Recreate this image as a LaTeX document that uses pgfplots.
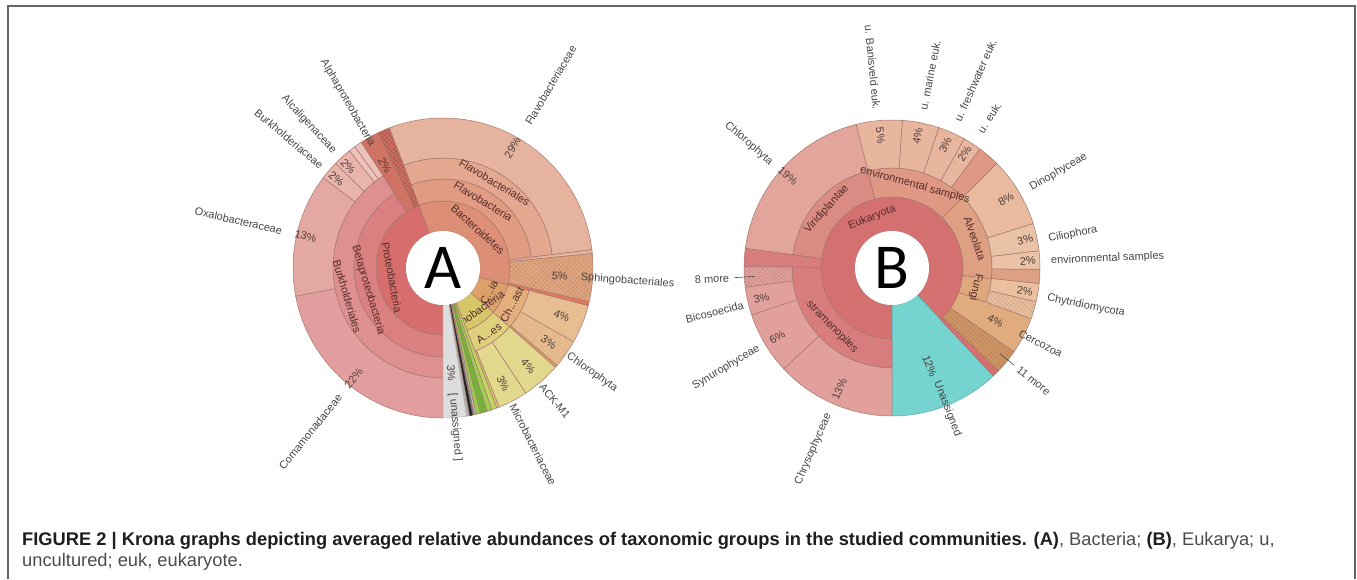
\documentclass[border=0pt]{standalone}
\usepackage{pgfplots}
\pgfplotsset{compat=1.18}
\usepackage{fontspec}
\setmainfont{Liberation Sans}
\newfontfamily\carlito{Carlito}
\usetikzlibrary{patterns.meta}
% ---- colours ----
\definecolor{edgec}{RGB}{165,118,108}
\definecolor{labc}{RGB}{70,70,70}
\definecolor{ilabc}{RGB}{85,45,42}
\definecolor{pctc}{RGB}{80,62,58}
\definecolor{framec}{RGB}{100,100,100}
\definecolor{capb}{RGB}{30,30,30}
\definecolor{capr}{RGB}{75,75,75}
% chart A
\definecolor{Proteo}{RGB}{214,110,110}
\definecolor{Beta}{RGB}{218,128,128}
\definecolor{Burkh}{RGB}{222,143,143}
\definecolor{Comam}{RGB}{226,158,158}
\definecolor{Oxalo}{RGB}{228,168,162}
\definecolor{BurkF}{RGB}{232,180,172}
\definecolor{Slv}{RGB}{236,194,186}
\definecolor{AlphaS}{RGB}{208,114,100}
\definecolor{AlphaH}{RGB}{205,110,96}
\definecolor{Bacte}{RGB}{220,143,118}
\definecolor{Flavo}{RGB}{225,155,130}
\definecolor{Flavl}{RGB}{228,167,143}
\definecolor{Flavf}{RGB}{230,180,158}
\definecolor{Sphing}{RGB}{226,166,128}
\definecolor{RedS}{RGB}{225,120,95}
\definecolor{Cyano}{RGB}{220,160,105}
\definecolor{Chlpl}{RGB}{226,175,125}
\definecolor{CyF}{RGB}{231,190,146}
\definecolor{Actin}{RGB}{214,198,105}
\definecolor{ActII}{RGB}{222,208,125}
\definecolor{ActF}{RGB}{226,216,142}
% chart B
\definecolor{Euk}{RGB}{212,112,112}
\definecolor{Unas}{RGB}{117,211,208}
\definecolor{More}{RGB}{208,150,102}
\definecolor{Cerco}{RGB}{224,172,125}
\definecolor{Fungi}{RGB}{222,168,125}
\definecolor{Chytr}{RGB}{234,192,160}
\definecolor{Alveo}{RGB}{222,160,130}
\definecolor{AlvF}{RGB}{234,194,166}
\definecolor{Dino}{RGB}{233,186,158}
\definecolor{Env}{RGB}{222,152,132}
\definecolor{EnvF}{RGB}{232,182,158}
\definecolor{Virid}{RGB}{218,140,130}
\definecolor{Chlor}{RGB}{226,165,155}
\definecolor{Strm}{RGB}{215,125,125}
\definecolor{StrF}{RGB}{226,160,156}
\tikzset{
 wedge/.style={draw=edgec,line width=0.5pt},
 hatch/.style={postaction={pattern={Lines[angle=45,distance=3.2pt,line width=0.3pt]},pattern color=#1},
               postaction={pattern={Lines[angle=-45,distance=3.2pt,line width=0.3pt]},pattern color=#1}},
 lab/.style={font=\fontsize{11}{13}\selectfont,text=labc,inner sep=0pt},
 ilab/.style={font=\fontsize{11}{13}\selectfont,text=ilabc,inner sep=0pt},
 pct/.style={font=\fontsize{11}{13}\selectfont,text=pctc,inner sep=0pt},
}
% wedge: cx cy a1 a2 r1 r2 style
\newcommand\W[7]{\path[wedge,#7] ([shift={(#3:#5pt)}]axis cs:#1,#2) arc[start angle=#3,end angle=#4,radius=#5pt] -- ([shift={(#4:#6pt)}]axis cs:#1,#2) arc[start angle=#4,end angle=#3,radius=#6pt] -- cycle;}
\newcommand\WA[5]{\W{443}{311}{#1}{#2}{#3}{#4}{#5}}
\newcommand\WB[5]{\W{892}{311}{#1}{#2}{#3}{#4}{#5}}
% label: angle radius rotation text style
\newcommand\LA[5]{\node[#5,rotate=#3] at ([shift={(#1:#2pt)}]axis cs:443,311) {#4};}
\newcommand\LB[5]{\node[#5,rotate=#3] at ([shift={(#1:#2pt)}]axis cs:892,311) {#4};}
\begin{document}
\begin{tikzpicture}
\begin{axis}[x=1pt,y=1pt,xmin=0,xmax=1357,ymin=0,ymax=579,hide axis,clip=false]
\coordinate (LL) at (axis cs:0,0);
\coordinate (UR) at (axis cs:1357,579);
% ================= CHART A =================
% ring 1
\WA{111}{270}{37}{67}{fill=Proteo}
\WA{-14.5}{111}{37}{67}{fill=Bacte}
\WA{-41.5}{-14.5}{37}{67}{fill=Cyano}
\WA{-69}{-41.5}{37}{67}{fill=Actin}
% ring 2
\WA{123}{270}{67}{89}{fill=Beta}
\WA{7}{111}{67}{89}{fill=Flavo}
\WA{-41.5}{-14.5}{67}{89}{fill=Chlpl}
\WA{-69}{-41.5}{67}{89}{fill=ActII}
% ring 3
\WA{123}{270}{89}{110}{fill=Burkh}
\WA{7}{111}{89}{110}{fill=Flavl}
% outer families
\WA{190.8}{270}{110}{150}{fill=Comam}
\WA{143}{190.8}{110}{150}{fill=Oxalo}
\WA{135.8}{143}{110}{150}{fill=BurkF}
\WA{128.6}{135.8}{110}{150}{fill=BurkF}
\WA{126}{128.6}{110}{150}{fill=Slv}
\WA{123}{126}{110}{150}{fill=Slv}
\WA{7}{111}{110}{150}{fill=Flavf}
\WA{-29.5}{-14.5}{89}{150}{fill=CyF}
\WA{-40.5}{-29.5}{89}{150}{fill=CyF,hatch=Cyano!85!white}
\WA{-41.5}{-40.5}{89}{150}{fill=Cyano}
\WA{-56.5}{-41.5}{89}{150}{fill=ActF}
\WA{-68}{-56.5}{89}{150}{fill=ActF}
\WA{-69}{-68}{89}{150}{fill=Actin}
% spanning wedges
\WA{115.5}{123}{67}{150}{fill=AlphaS}
\WA{111}{115.5}{67}{150}{fill=AlphaH,hatch=AlphaH!75!black}
\WA{5.5}{7}{67}{150}{fill=Flavf}
\WA{-13}{5.5}{67}{150}{fill=Sphing,hatch=Sphing!85!black}
\WA{-14.5}{-13}{67}{150}{fill=RedS}
\LA{-55}{55}{35}{Actinobacteria}{ilab}
\WA{-71}{-69}{37}{150}{fill={rgb,255:red,196;green,212;blue,100}}
\WA{-73}{-71}{37}{150}{fill={rgb,255:red,160;green,205;blue,85}}
\WA{-75.5}{-73}{37}{150}{fill={rgb,255:red,115;green,180;blue,55}}
\WA{-77.2}{-75.5}{37}{150}{fill={rgb,255:red,150;green,200;blue,80}}
\WA{-78}{-77.2}{37}{150}{fill={rgb,255:red,190;green,190;blue,190}}
\WA{-78.8}{-78}{37}{150}{fill={rgb,255:red,120;green,120;blue,120}}
\WA{-79.8}{-78.8}{37}{150}{fill={rgb,255:red,35;green,35;blue,35},draw={rgb,255:red,35;green,35;blue,35}}
\WA{-81}{-79.8}{37}{150}{fill={rgb,255:red,175;green,175;blue,175}}
\WA{-90}{-81}{37}{150}{fill={rgb,255:red,221;green,221;blue,221},draw={rgb,255:red,190;green,190;blue,190}}
\path[fill=white] (axis cs:443,311) circle[radius=37pt];
\node[font=\carlito\fontsize{64}{64}\selectfont,inner sep=0pt] at (axis cs:443,311) {A};
% inner labels A
\LA{190.5}{52}{-79.5}{Proteobacteria}{ilab}
\LA{196.5}{78}{-73.5}{Betaproteobacteria}{ilab}
\LA{196.5}{100}{-73.5}{Burkholderiales}{ilab}
\LA{48}{52}{-42}{Bacteroidetes}{ilab}
\LA{59}{78}{-31}{Flavobacteria}{ilab}
\LA{59}{100}{-31}{Flavobacteriales}{ilab}
\LA{-28}{52}{62}{C...ia}{ilab}
\LA{-28}{78}{62}{Ch...ast}{ilab}
\LA{-55}{80}{35}{A...es}{ilab}
% percentages A
\LA{60}{139}{60}{29\%}{pct}
\LA{-4}{117}{-4}{5\%}{pct}
\LA{-22}{128}{-22}{4\%}{pct}
\LA{-35}{129}{-35}{3\%}{pct}
\LA{-49}{130}{-49}{4\%}{pct}
\LA{-62.5}{130}{-62.5}{3\%}{pct}
\LA{-85.5}{105}{-85.5}{3\%}{pct}
\LA{231}{142}{51}{22\%}{pct}
\LA{167}{141}{-13}{13\%}{pct}
\LA{140}{139}{-40}{2\%}{pct}
\LA{133}{139}{-47}{2\%}{pct}
\LA{119.5}{118}{-60.5}{2\%}{pct}
% outer names A
\LA{59.5}{167}{59.5}{Flavobacteriaceae}{lab,anchor=west}
\LA{-4}{138}{-4}{Sphingobacteriales}{lab,anchor=west}
\LA{-35}{152}{-35}{Chlorophyta}{lab,anchor=west}
\LA{-50}{153}{-50}{ACK-M1}{lab,anchor=west}
\LA{-63}{153}{-63}{Microbacteriaceae}{lab,anchor=west}
\LA{-85.5}{125}{-85.5}{[ unassigned ]}{lab,anchor=west}
\LA{231}{164}{51}{Comamonadaceae}{lab,anchor=east}
\LA{167}{165}{-13}{Oxalobacteraceae}{lab,anchor=east}
\LA{140}{158}{-40}{Burkholderiaceae}{lab,anchor=east}
\LA{133}{159}{-47}{Alcaligenaceae}{lab,anchor=east}
\LA{120}{141}{-60}{Alphaproteobacteria}{lab,anchor=east}
% ================= CHART B =================
\WB{-46.8}{270}{37}{71}{fill=Euk}
\WB{-90}{-46.8}{37}{148}{fill=Unas,draw={rgb,255:red,90;green,170;blue,165}}
\WB{-46.8}{-44}{71}{148}{fill=Euk}
\WB{-44}{-34.4}{71}{148}{fill=More,hatch=More!88!black}
\WB{-34.4}{-20}{71}{148}{fill=Cerco}
\WB{-20}{-6}{71}{100}{fill=Fungi}
\WB{-13.2}{-6}{100}{148}{fill=Chytr}
\WB{-20}{-13.2}{100}{148}{fill=Chytr,hatch=Chytr!85!black}
\WB{-6}{45}{71}{100}{fill=Alveo}
\WB{-6}{-0.5}{100}{148}{fill=Alveo}
\WB{-0.5}{6.7}{100}{148}{fill=AlvF}
\WB{6.7}{17.5}{100}{148}{fill=AlvF}
\WB{17.5}{45}{100}{148}{fill=Dino}
\WB{45}{104}{71}{100}{fill=Env}
\WB{45}{53.6}{100}{148}{fill=Env}
\WB{53.6}{60.8}{100}{148}{fill=EnvF}
\WB{60.8}{71.6}{100}{148}{fill=EnvF}
\WB{71.6}{86}{100}{148}{fill=EnvF}
\WB{86}{104}{100}{148}{fill=EnvF}
\WB{104}{172.4}{71}{100}{fill=Virid}
\WB{104}{172.4}{100}{148}{fill=Chlor}
\WB{172.4}{179.5}{71}{148}{fill=Strm}
\WB{179.5}{270}{71}{100}{fill=Strm}
\WB{179.5}{187.5}{100}{148}{fill=StrF,hatch=StrF!85!black}
\WB{187.5}{198.5}{100}{148}{fill=StrF}
\WB{198.5}{223}{100}{148}{fill=StrF}
\WB{223}{270}{100}{148}{fill=StrF}
\path[fill=white] (axis cs:892,311) circle[radius=37pt];
\node[font=\carlito\fontsize{64}{64}\selectfont,inner sep=0pt] at (axis cs:892,311) {B};
% inner labels B
\LB{111.6}{54}{21.6}{Eukaryota}{ilab}
\LB{138}{88}{48}{Viridiplantae}{ilab}
\LB{74.5}{86}{-15.5}{environmental samples}{ilab}
\LB{19.5}{88}{-70.5}{Alveolata}{ilab}
\LB{-13}{86}{-103}{Fungi}{ilab}
\LB{224.5}{84}{-45.5}{stramenopiles}{ilab}
% percentages B
\LB{138.5}{139}{-41.5}{19\%}{pct}
\LB{95}{133}{-85}{5\%}{pct}
\LB{79}{134}{79}{4\%}{pct}
\LB{66.5}{134}{66.5}{3\%}{pct}
\LB{57.5}{135}{57.5}{2\%}{pct}
\LB{31}{133}{31}{8\%}{pct}
\LB{12}{136}{12}{3\%}{pct}
\LB{3}{136}{3}{2\%}{pct}
\LB{-10}{135}{-10}{2\%}{pct}
\LB{-27}{116}{-27}{4\%}{pct}
\LB{-69}{105}{-69}{12\%}{pct}
\LB{246.5}{132}{66.5}{13\%}{pct}
\LB{211}{134}{31}{6\%}{pct}
\LB{193}{134}{13}{3\%}{pct}
% outer names B
\LB{139}{160}{-41}{Chlorophyta}{lab,anchor=east}
\LB{95.5}{159}{-84.5}{u. Banisveld euk.}{lab,anchor=east}
\LB{78.8}{161}{78.8}{u. marine euk.}{lab,anchor=west}
\LB{66}{161}{66}{u. freshwater euk.}{lab,anchor=west}
\LB{57}{162}{57}{u. euk.}{lab,anchor=west}
\LB{30}{160}{30}{Dinophyceae}{lab,anchor=west}
\LB{10.5}{159}{10.5}{Ciliophora}{lab,anchor=west}
\LB{2.5}{159}{2.5}{environmental samples}{lab,anchor=west}
\LB{-11}{158}{-11}{Chytridiomycota}{lab,anchor=west}
\LB{-27}{143}{-27}{Cercozoa}{lab,anchor=west}
\LB{-38.5}{161}{-38.5}{11 more}{lab,anchor=west}
\LB{-68.5}{122}{-68.5}{Unassigned}{lab,anchor=west}
\LB{246.5}{159}{66.5}{Chrysophyceae}{lab,anchor=east}
\LB{211}{155}{31}{Synurophyceae}{lab,anchor=east}
\LB{194}{153}{14}{Bicosoecida}{lab,anchor=east}
\LB{183.5}{163}{3.5}{8 more}{lab,anchor=east}
\draw[labc,line width=0.6pt] ([shift={(-38.5:138pt)}]axis cs:892,311) -- ([shift={(-38.5:156pt)}]axis cs:892,311);
\draw[labc,line width=0.6pt] ([shift={(183.5:138pt)}]axis cs:892,311) -- ([shift={(183.5:158pt)}]axis cs:892,311);
% ================= frame and caption =================
\draw[framec,line width=1.5pt] (axis cs:8,0) -- (axis cs:8,573) -- (axis cs:1355,573) -- (axis cs:1355,0);
\node[anchor=base west,inner sep=0pt,font=\fontsize{18.3}{22}\selectfont,text=capr] at (axis cs:22,34)
 {\textbf{\color{capb}FIGURE 2 | Krona graphs depicting averaged relative abundances of taxonomic groups in the studied communities. (A)}, Bacteria; \textbf{\color{capb}(B)}, Eukarya; u,};
\node[anchor=base west,inner sep=0pt,font=\fontsize{18.3}{22}\selectfont,text=capr] at (axis cs:22,13)
 {uncultured; euk, eukaryote.};
\end{axis}
\pgfresetboundingbox
\path (LL) rectangle (UR);
\end{tikzpicture}
\end{document}
